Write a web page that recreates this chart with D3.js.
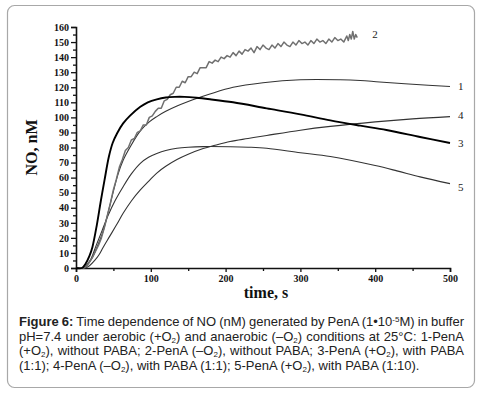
<!DOCTYPE html>
<html>
<head>
<meta charset="utf-8">
<script src="https://cdn.jsdelivr.net/npm/d3@7"></script>
<style>
  body { margin: 0; background: #fff; }
  svg { display: block; }
</style>
</head>
<body>
<div id="chart"></div>
<script>
// curve values: [time s, NO nM]
const curve1 = [[0,0],[10,0],[15,2],[22,7],[29,15],[36,24],[42,35],[49,49],[56,62],[63,71.5],[72,80],[86,91],[98,97],[108,100.5],[120,104],[135,107.5],[150,110.5],[161,112.5],[179,115.5],[210,120],[250,123],[300,125],[353,125],[380,124.5],[406,123.5],[450,122],[500,120.5]];
const curve2 = [[0,0],[10,0],[14,1],[18,4],[22,7],[26,11],[30,15],[34,20],[38,27],[42,35],[46,43],[50,52],[54,59],[58,67],[62,72],[66,78],[70,80],[74,85],[78,86],[82,90],[86,91],[90,95],[94,95],[98,100],[102,101],[106,104],[110,106],[114,106],[118,111],[122,112],[126,115],[130,116],[134,120],[138,120],[142,124],[146,123],[150,127],[154,127],[158,130],[162,129],[166,133],[170,133],[174,133],[178,137],[182,136],[186,138],[190,137],[194,140],[198,139],[202,141],[206,140],[210,143],[214,141],[218,144],[222,142],[226,145],[230,144],[234,146],[238,143],[242,147],[246,145],[250,148],[254,146],[258,145],[262,148],[266,146],[270,149],[274,147],[278,150],[282,148],[286,147],[290,150],[294,148],[298,151],[302,149],[306,150],[310,148],[314,151],[318,149],[322,152],[326,150],[330,151],[334,149],[338,152],[342,150],[346,153],[350,151],[354,152],[358,150],[362,154],[364,151],[366,155],[368,152],[370,157],[372,152],[374,155],[376,153]];
const curve3 = [[0,0],[8,0],[13,3],[18,8],[22,14],[28,29],[33,44],[38,58],[44,74],[49,83],[55,89.5],[63,96],[72,101],[86,107],[96,110],[108,112],[120,113.2],[132,113.6],[145,113.6],[161,113],[179,112],[210,110],[255,106],[300,102],[340,98],[380,94.5],[415,91.6],[460,87],[500,83]];
const curve4 = [[0,0],[12,0],[18,1.5],[25,5],[31,9],[36,13.5],[45,21],[54,28.5],[63,36.3],[74,44.5],[86,51.8],[97,57.5],[108,63],[120,67.5],[135,72],[150,75.5],[170,79.3],[186,81.5],[206,84],[230,86],[255,88],[300,91.5],[340,94],[400,97],[450,99],[500,100.5]];
const curve5 = [[0,0],[10,0],[15,2.5],[20,6],[27,15],[35,25],[43,35],[52,44.5],[63,54],[74,62.5],[86,69.5],[97,73.5],[108,76],[120,78],[135,79.5],[150,80.2],[170,80.6],[206,80.5],[230,80.2],[255,79.5],[300,76.5],[340,74],[400,68],[429,64.5],[460,60.5],[500,56]];

const curveNames = ["1", "2", "3", "4", "5"];
const xTicks = [0, 100, 200, 300, 400, 500];
const yTicks = d3.range(0, 161, 10);

const captionLines = [
  [["Figure 6:", "b"], [" Time dependence of NO (nM) generated by PenA (1•10"], ["-5", "sup"], ["M) in buffer"]],
  [["pH=7.4 under aerobic (+O"], ["2", "sub"], [") and anaerobic (–O"], ["2", "sub"], [") conditions at 25°C: 1-PenA"]],
  [["(+O"], ["2", "sub"], ["), without PABA; 2-PenA (–O"], ["2", "sub"], ["), without PABA; 3-PenA (+O"], ["2", "sub"], ["), with PABA"]],
  [["(1:1); 4-PenA (–O"], ["2", "sub"], ["), with PABA (1:1); 5-PenA (+O"], ["2", "sub"], ["), with PABA (1:10)."]]
];

const W = 494, H = 396;
const svg = d3.select("#chart").append("svg")
  .attr("width", W)
  .attr("height", H);

// outer rounded frame
svg.append("rect")
  .attr("x", 7.5).attr("y", 5.5)
  .attr("width", 467).attr("height", 382)
  .attr("rx", 7)
  .attr("fill", "#fff")
  .attr("stroke", "#a8a8a8")
  .attr("stroke-width", 1.2);

const x = d3.scaleLinear().domain([0, 500]).range([76, 450]);
const y = d3.scaleLinear().domain([0, 160]).range([268, 27]);

const serif = "'Liberation Serif', 'Times New Roman', serif";

// y axis
const yAxis = svg.append("g")
  .attr("transform", `translate(${x(0)},0)`)
  .call(d3.axisLeft(y).tickValues(yTicks).tickSize(5).tickPadding(2));
svg.append("g")
  .attr("transform", `translate(${x(0)},0)`)
  .call(d3.axisLeft(y).tickValues(d3.range(5, 160, 10)).tickSize(3).tickFormat(""))
  .select(".domain").remove();

// x axis
const xAxis = svg.append("g")
  .attr("transform", `translate(0,${y(0)})`)
  .call(d3.axisBottom(x).tickValues(xTicks).tickSize(4).tickPadding(3));
svg.append("g")
  .attr("transform", `translate(0,${y(0)})`)
  .call(d3.axisBottom(x).tickValues([50, 150, 250, 350, 450]).tickSize(3).tickFormat(""))
  .select(".domain").remove();

svg.selectAll(".domain").attr("stroke", "#111").attr("stroke-width", 1.6);
svg.selectAll(".tick line").attr("stroke", "#111").attr("stroke-width", 1.3);
[yAxis, xAxis].forEach(g => g.selectAll("text")
  .style("font-family", serif)
  .style("font-size", "10px")
  .style("font-weight", "bold")
  .attr("fill", "#111"));

// axis titles
svg.append("text")
  .attr("transform", `translate(37,${y(80)}) rotate(-90)`)
  .attr("text-anchor", "middle")
  .style("font-family", serif)
  .style("font-size", "16px")
  .style("font-weight", "bold")
  .attr("fill", "#111")
  .text("NO, nM");

svg.append("text")
  .attr("x", 266)
  .attr("y", 298)
  .attr("text-anchor", "middle")
  .style("font-family", serif)
  .style("font-size", "16px")
  .style("font-weight", "bold")
  .attr("fill", "#111")
  .text("time, s");

// curves
const smooth = d3.line().x(d => x(d[0])).y(d => y(d[1])).curve(d3.curveCatmullRom.alpha(0.5));
const rough = d3.line().x(d => x(d[0])).y(d => y(d[1]));

const series = [
  { data: curve5, line: smooth, color: "#333", width: 1.1 },
  { data: curve4, line: smooth, color: "#333", width: 1.1 },
  { data: curve1, line: smooth, color: "#333", width: 1.1 },
  { data: curve2, line: rough, color: "#707070", width: 1.5 },
  { data: curve3, line: smooth, color: "#000", width: 1.9 }
];
series.forEach(s => {
  svg.append("path")
    .datum(s.data)
    .attr("d", s.line)
    .attr("fill", "none")
    .attr("stroke", s.color)
    .attr("stroke-width", s.width)
    .attr("stroke-linejoin", "round");
});

// curve numbers
const labelData = [curve1, curve2, curve3, curve4, curve5];
const labelOffsets = [[8, 0], [15, -3], [8, 0], [8, -1], [8, 3]];
labelData.forEach((c, i) => {
  const last = c[c.length - 1];
  svg.append("text")
    .attr("x", x(last[0]) + labelOffsets[i][0])
    .attr("y", y(last[1]) + labelOffsets[i][1])
    .attr("dy", "0.35em")
    .style("font-family", serif)
    .style("font-size", "11px")
    .attr("fill", "#222")
    .text(curveNames[i]);
});

// caption, justified
const capLeft = 19, capRight = 464, capTop = 326, capStep = 14.6;
captionLines.forEach((segs, li) => {
  const t = svg.append("text")
    .attr("x", capLeft)
    .attr("y", capTop + li * capStep)
    .style("font-family", "'Liberation Sans', Arial, sans-serif")
    .style("font-size", "13px")
    .attr("fill", "#222");
  let shift = 0;
  segs.forEach(([str, kind]) => {
    const sp = t.append("tspan").text(str);
    if (kind === "b") sp.style("font-weight", "bold");
    if (kind === "sub" || kind === "sup") {
      const d = kind === "sub" ? 2 : -4.5;
      sp.attr("dy", d - shift).style("font-size", "8px");
      shift = d;
    } else if (shift !== 0) {
      sp.attr("dy", -shift);
      shift = 0;
    }
  });
  if (li < captionLines.length - 1) {
    const len = t.node().getComputedTextLength();
    const spaces = segs.map(s => s[0]).join("").split(" ").length - 1;
    if (spaces > 0) t.style("word-spacing", ((capRight - capLeft - len) / spaces) + "px");
  }
});
</script>
</body>
</html>
